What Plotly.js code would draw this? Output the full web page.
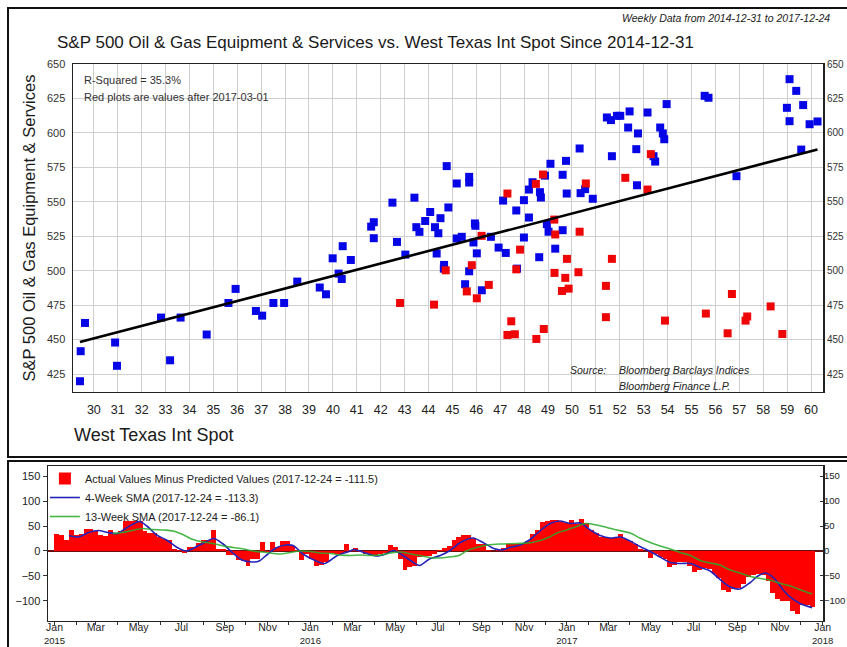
<!DOCTYPE html>
<html><head><meta charset="utf-8">
<script src="https://cdn.plot.ly/plotly-3.0.1.min.js"></script>
<style>html,body{margin:0;padding:0;background:#fff}#chart{width:847px;height:647px}</style>
</head><body><div id="chart"></div>
<script>
// ---------- Scatter data (WTI spot vs S&P 500 Oil & Gas Equipment & Services) ----------
const wtiBefore = [29.42,30.97,33.19,29.45,29.63,30.89,32.81,33.63,34.72,35.63,
  35.93,36.78,37.04,37.51,37.96,38.51,39.45,39.71,39.99,40.24,
  40.37,40.41,40.75,41.60,41.71,41.71,42.49,42.68,43.03,43.41,
  43.49,43.62,43.86,44.07,44.27,44.34,44.41,44.50,44.65,44.64,
  44.76,44.83,45.18,45.18,45.39,45.70,45.70,45.53,45.70,45.94,
  45.96,45.88,46.02,46.23,46.61,46.93,47.23,47.12,47.67,47.99,
  47.99,47.70,48.20,48.20,48.35,48.63,48.66,48.70,48.87,48.95,
  49.02,49.10,49.30,49.61,49.61,49.75,49.78,50.32,50.36,50.55,
  50.87,51.46,51.63,51.67,51.88,52.02,52.41,52.35,52.76,52.69,
  52.72,53.16,53.41,53.48,53.69,53.80,53.86,53.96,55.55,55.71,
  56.88,59.10,59.38,58.99,59.10,59.67,59.59,59.94,60.27];
const spxBefore = [419.8,431.0,435.0,441.6,462.1,447.9,466.0,466.0,453.7,476.6,
  486.8,470.8,467.4,476.6,476.6,492.1,487.8,482.9,509.0,497.9,
  494.0,517.8,507.8,532.0,535.2,523.6,549.4,520.9,511.7,553.0,
  531.6,528.2,536.1,542.6,531.6,512.5,527.2,538.1,504.2,501.5,
  575.9,545.9,563.3,523.4,524.6,568.1,564.0,490.2,499.6,534.3,
  532.6,520.5,512.6,485.8,524.6,516.8,512.9,550.9,543.7,551.2,
  524.1,501.5,538.6,558.9,564.2,509.8,557.0,553.1,569.0,533.8,
  528.3,577.6,516.0,569.6,529.4,579.7,556.0,588.7,556.3,559.2,
  552.2,611.2,609.3,583.1,612.4,612.4,615.6,603.9,599.6,588.2,
  562.0,614.8,583.1,579.2,603.9,599.6,595.4,620.9,626.9,625.5,
  568.6,639.0,630.5,618.2,608.5,620.2,587.9,606.3,608.3];
const wtiAfter = [42.81,44.23,44.72,45.60,45.81,46.02,46.22,46.52,47.30,47.46,
  47.30,47.61,47.67,47.83,48.49,48.51,48.79,48.82,49.26,49.30,
  49.27,49.72,49.58,49.86,49.79,50.27,50.32,50.58,51.42,51.42,
  51.67,52.23,53.16,53.30,53.89,55.60,56.69,56.51,57.26,57.33,
  58.31,58.80];
const spxAfter = [476.6,475.4,500.3,485.0,504.0,480.0,525.3,489.7,556.0,463.3,
  453.4,453.9,501.0,515.3,563.0,450.5,569.8,457.7,537.1,526.3,
  498.4,494.8,485.3,487.0,508.6,498.9,528.3,563.3,489.0,466.3,
  508.6,567.4,558.9,584.6,463.8,468.9,483.1,454.6,463.8,466.8,
  474.1,454.1];
const regSlope = 4.53;
const regIntercept = 315.0;
const scatterXTicks = [30,31,32,33,34,35,36,37,38,39,40,41,42,43,44,45,46,47,48,49,50,51,52,53,54,55,56,57,58,59,60];
const scatterYTicks = [425,450,475,500,525,550,575,600,625,650];

// ---------- Residual data (weekly, first week 2015-01-04) ----------
const residStart = [2015, 0, 4];
const residuals = [35,32,22,43,32,35,45,45,40,32,
  30,42,35,40,61,61,61,60,40,37,
  37,28,25,22,4,2,-4,8,8,17,
  22,22,43,4,3,-9,-9,-18,-21,-31,
  -17,-17,18,-2,18,8,20,20,10,1,
  -19,-6,-16,-31,-29,-22,-5,-7,-7,14,
  2,6,-3,-6,-9,-9,-7,-5,12,9,
  -17,-38,-33,-30,-12,-11,-10,-6,
  2,5,10,22,28,32,32,27,14,14,
  2,0,2,5,14,14,14,14,20,35,
  43,59,61,63,63,61,56,63,54,64,
  56,43,37,28,28,27,28,35,25,20,
  14,4,0,-14,-7,-12,-16,-33,-29,
  -22,-22,-31,-43,-39,-35,-37,-46,-55,-78,
  -83,-76,-75,-66,-53,-48,-46,-48,-61,-84,
  -97,-101,-101,-120,-126,-108,-108,-111.5];
// SMA lines (position in weeks after first week, value)
const sma4Week = [2.5,4.5,6.5,8.5,10.5,12.4,13.9,15.4,16.9,18.4,20.4,22.4,24.4,26.4,27.8,29.8,32.0,33.8,35.8,37.8,
  39.8,41.3,42.8,44.9,46.7,48.2,50.2,52.7,54.7,57.2,59.6,60.6,62.6,65.1,67.1,68.7,70.6,72.6,74.0,76.0,
  78.2,80.2,82.3,84.9,86.9,89.1,90.7,92.4,94.5,96.5,98.6,100.6,102.6,104.6,106.7,108.8,110.8,112.9,114.9,116.9,
  118.9,121.0,123.0,125.1,127.1,129.2,131.2,133.2,135.2,137.3,139.3,141.4,142.8,144.5,146.2,148.1,149.5,151.5,154];
const sma4Val = [31,28,37,41,37,35,44,53,59,50,32,22,8,0,5,15,25,15,-3,-18,
  -22,-20,-8,7,12,11,-6,-19,-25,-9,-1,3,-3,-10,-6,1,-9,-22,-29,-16,
  -9,1,17,26,17,5,2,7,12,23,41,55,60,55,56,42,31,26,28,20,
  9,-1,-12,-23,-25,-25,-33,-40,-57,-72,-76,-63,-51,-44,-54,-78,-92,-105,-113.3];
const sma13Week = [11.45,13.4,15.4,17.4,19.4,21.8,23.8,25.9,27.8,29.8,31.9,34.0,36.0,38.1,40.1,42.8,45.5,47.6,49.7,51.7,
  53.8,55.9,57.8,59.9,61.9,64.0,66.0,68.1,70.1,72.2,74.0,76.0,78.0,80.0,82.0,83.5,85.6,87.9,90.4,93.9,
  96.9,98.9,100.5,102.0,104.0,106.0,107.8,110.1,112.2,114.2,116.9,118.9,121.0,123.0,125.1,127.1,129.2,131.2,133.2,135.2,
  137.3,139.3,141.4,143.5,145.6,147.6,149.6,151.7,154];
const sma13Val = [35,37,41,45,43,42,40,32,23,18,15,10,7,4,0,-3,-6,-3,0,-1,
  -4,-5,-8,-9,-8,-9,-8,-4,-2,-6,-9,-13,-14,-12,-9,0,7,12,14,15,
  17,22,28,36,42,49,55,52,47,42,36,26,17,10,4,-3,-9,-19,-24,-28,
  -38,-44,-51,-55,-59,-65,-70,-78,-86.1];
const residYTicks = [-100,-50,0,50,100,150];
const monthNames = ['Jan','Feb','Mar','Apr','May','Jun','Jul','Aug','Sep','Oct','Nov','Dec'];
const yearTicks = ['2015-01-01','2016-01-01','2017-01-01','2018-01-01'];
const yearLabels = ['2015','2016','2017','2018'];

// ---------- helpers ----------
const DAY = 86400000;
const t0 = Date.UTC(residStart[0], residStart[1], residStart[2]);
function weekDate(w){ return new Date(t0 + w*7*DAY).toISOString().replace('T',' ').slice(0,19); }
const residDates = residuals.map((v,i)=>weekDate(i));
const monthTickVals = [], monthTickText = [];
for (let m = 0; m <= 36; m++) {
  const d = new Date(Date.UTC(2015, m, 1));
  monthTickVals.push(d.toISOString().slice(0,10));
  const mi = d.getUTCMonth();
  monthTickText.push(mi % 2 === 0 ? monthNames[mi] : '');
}
const allX = wtiBefore.concat(wtiAfter);
const xMin = Math.min(...allX), xMax = Math.max(...allX);

const NARROW = 'Liberation Sans Narrow, Arial Narrow, Liberation Sans, sans-serif';
const REG = 'Liberation Sans, Arial, sans-serif';
const XRANGE2 = ['2014-12-22 16:00','2018-01-01 12:00'];

const traces = [
  {type:'scatter', mode:'markers', x:wtiBefore, y:spxBefore, xaxis:'x', yaxis:'y',
   marker:{symbol:'square', size:8, color:'#0505e6'}, showlegend:false, hoverinfo:'skip', name:'Before 2017-03-01'},
  {type:'scatter', mode:'markers', x:wtiAfter, y:spxAfter, xaxis:'x', yaxis:'y',
   marker:{symbol:'square', size:8, color:'#ee0505'}, showlegend:false, hoverinfo:'skip', name:'After 2017-03-01'},
  {type:'scatter', mode:'lines', x:[xMin, xMax], y:[regIntercept + regSlope*xMin, regIntercept + regSlope*xMax],
   xaxis:'x', yaxis:'y3', line:{color:'#000', width:2.6}, showlegend:false, hoverinfo:'skip', name:'Regression'},
  {type:'bar', x:residDates, y:residuals, xaxis:'x2', yaxis:'y2', width:7*DAY,
   marker:{color:'#ff0000', line:{width:0}},
   name:'Actual Values Minus Predicted Values (2017-12-24 = -111.5)', hoverinfo:'skip'},
  {type:'scatter', mode:'lines', x:sma4Week.map(weekDate), y:sma4Val, xaxis:'x2', yaxis:'y2',
   line:{color:'#2424b8', width:1.6, shape:'spline', smoothing:0.8},
   name:'4-Week SMA (2017-12-24 = -113.3)', hoverinfo:'skip'},
  {type:'scatter', mode:'lines', x:sma13Week.map(weekDate), y:sma13Val, xaxis:'x3', yaxis:'y4',
   line:{color:'rgba(40,170,40,0.85)', width:1.6, shape:'spline', smoothing:0.8},
   name:'13-Week SMA (2017-12-24 = -86.1)', hoverinfo:'skip'}
];

// geometry: plot area x 48..823, y 64..624 (fig 847x647)
const layout = {
  width:847, height:647,
  margin:{l:48, r:24, t:64, b:23},
  paper_bgcolor:'#fff', plot_bgcolor:'#fff',
  showlegend:true,
  hovermode:false,
  title:{text:'S&P 500 Oil & Gas Equipment & Services vs. West Texas Int Spot Since 2014-12-31',
         x:0.0673, xref:'container', xanchor:'left', y:0.935, yref:'container', yanchor:'middle',
         font:{family:NARROW, size:17, color:'#1a1a1a'}},
  xaxis:{domain:[0.0323,1], range:[29.13,60.5], tickvals:scatterXTicks, showgrid:true, gridcolor:'#cfcfcf', gridwidth:1,
         zeroline:false, showline:true, linecolor:'#222', linewidth:1.5, mirror:true,
         ticks:'outside', ticklen:6, tickcolor:'rgba(0,0,0,0)', tickfont:{family:NARROW, size:12.5, color:'#222'}, anchor:'y'},
  yaxis:{domain:[0.4143,1], range:[412,650], tickvals:scatterYTicks, showgrid:true, gridcolor:'#cfcfcf', gridwidth:1,
         zeroline:false, showline:true, linecolor:'#222', linewidth:1.5, mirror:true,
         ticks:'outside', ticklen:4, tickcolor:'rgba(0,0,0,0)', tickfont:{family:REG, size:11, color:'#333'}, anchor:'x',
         title:{text:'S&P 500 Oil & Gas Equipment & Services', standoff:7, font:{family:NARROW, size:16.5, color:'#1a1a1a'}}},
  yaxis3:{overlaying:'y', matches:'y', side:'right', range:[412,650], tickvals:scatterYTicks, showgrid:false, zeroline:false,
          showline:false, ticks:'outside', ticklen:1, tickcolor:'rgba(0,0,0,0)', tickfont:{family:REG, size:10, color:'#333'}, anchor:'x'},
  xaxis2:{domain:[0,1], type:'date', range:XRANGE2, tickvals:monthTickVals, ticktext:monthTickText,
          showgrid:false, zeroline:false, showline:true, linecolor:'#222', linewidth:1.5, mirror:true,
          ticks:'outside', ticklen:3, tickcolor:'#333', ticklabelstandoff:-7, tickfont:{family:REG, size:10.5, color:'#222'}, anchor:'y2'},
  xaxis3:{overlaying:'x2', matches:'x2', type:'date', range:XRANGE2, tickvals:yearTicks, ticktext:yearLabels, side:'bottom',
          showgrid:false, zeroline:false, showline:false, ticks:'', ticklabelstandoff:13,
          tickfont:{family:REG, size:9.5, color:'#222'}, anchor:'y4'},
  yaxis2:{domain:[0.0054,0.2821], range:[-140,170], tickvals:residYTicks, showgrid:false,
          zeroline:true, zerolinecolor:'#6b1010', zerolinewidth:1.5,
          showline:true, linecolor:'#222', linewidth:1.5, mirror:true,
          ticks:'outside', ticklen:4, tickcolor:'#333', tickfont:{family:REG, size:11, color:'#222'}, anchor:'x2'},
  yaxis4:{overlaying:'y2', matches:'y2', side:'right', range:[-140,170], tickvals:residYTicks, showgrid:false, zeroline:false,
          showline:false, ticks:'inside', ticklen:3, tickcolor:'#333', ticklabelstandoff:0, tickfont:{family:REG, size:9.5, color:'#222'}, anchor:'x3'},
  legend:{x:-0.004, y:0.2857, xanchor:'left', yanchor:'top', bgcolor:'rgba(0,0,0,0)', borderwidth:0,
          font:{family:REG, size:11, color:'#222'}, tracegroupgap:0, itemwidth:30, traceorder:'normal'},
  bargap:0,
  annotations:[
    {text:'R-Squared = 35.3%', xref:'paper', yref:'paper', x:0.0439, y:0.9714, xanchor:'left', yanchor:'middle', showarrow:false,
     font:{family:REG, size:11, color:'#333'}},
    {text:'Red plots are values after 2017-03-01', xref:'paper', yref:'paper', x:0.0439, y:0.941, xanchor:'left', yanchor:'middle', showarrow:false,
     font:{family:REG, size:11, color:'#333'}},
    {text:'<i>Source:</i>', xref:'paper', yref:'paper', x:0.671, y:0.4536, xanchor:'left', yanchor:'middle', showarrow:false,
     font:{family:NARROW, size:10.5, color:'#222'}},
    {text:'<i>Bloomberg Barclays Indices</i>', xref:'paper', yref:'paper', x:0.7342, y:0.4536, xanchor:'left', yanchor:'middle', showarrow:false,
     font:{family:NARROW, size:10.5, color:'#222'}},
    {text:'<i>Bloomberg Finance L.P.</i>', xref:'paper', yref:'paper', x:0.7342, y:0.425, xanchor:'left', yanchor:'middle', showarrow:false,
     font:{family:NARROW, size:10.5, color:'#222'}},
    {text:'<i>Weekly Data from 2014-12-31 to 2017-12-24</i>', xref:'paper', yref:'paper', x:1.0116, y:1.0821, xanchor:'right', yanchor:'middle', showarrow:false,
     font:{family:NARROW, size:10.5, color:'#222'}},
    {text:'West Texas Int Spot', xref:'paper', yref:'paper', x:0.031, y:0.3375, xanchor:'left', yanchor:'middle', showarrow:false,
     font:{family:NARROW, size:18, color:'#1a1a1a'}}
  ],
  shapes:[
    {type:'rect', xref:'paper', yref:'paper', x0:-0.0516, x1:1.08, y0:0.2982, y1:1.1, line:{color:'#111', width:2}, fillcolor:'rgba(0,0,0,0)', layer:'below'},
    {type:'rect', xref:'paper', yref:'paper', x0:-0.0516, x1:1.08, y0:-0.08, y1:0.2911, line:{color:'#111', width:2}, fillcolor:'rgba(0,0,0,0)', layer:'below'}
  ]
};

Plotly.newPlot('chart', traces, layout, {displayModeBar:false, staticPlot:true});
</script>
</body></html>
